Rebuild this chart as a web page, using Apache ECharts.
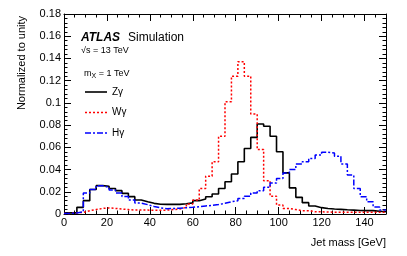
<!DOCTYPE html>
<html><head><meta charset="utf-8">
<script src="https://cdn.jsdelivr.net/npm/echarts@6/dist/echarts.min.js"></script>
<style>html,body{margin:0;padding:0;background:#fff}#c{width:407px;height:256px}</style>
</head><body><div id="c"></div>
<script>
// Bin edges (GeV), 3 GeV bins
var binEdges = [0,3,6,9,12,15,18,21,24,27,30,33,36,39,42,45,48,51,54,57,60,63,66,69,72,75,78,81,84,87,90,93,96,99,102,105,108,111,114,117,120,123,126,129,132,135,138,141,144,147,150];
var xTicks = [0,20,40,60,80,100,120,140];
var yTicks = [0,0.02,0.04,0.06,0.08,0.1,0.12,0.14,0.16,0.18];
var seriesNames = ['Z\u03b3','W\u03b3','H\u03b3'];
// Z gamma
var zGamma = [0.001,0.001,0.006,0.012,0.022,0.0255,0.025,0.023,0.021,0.0186,
  0.0156,0.0126,0.011,0.0096,0.0088,0.0087,0.0087,0.0087,0.0092,0.010,
  0.012,0.0135,0.0155,0.018,0.023,0.029,0.036,0.047,0.059,0.069,
  0.081,0.079,0.070,0.056,0.037,0.0235,0.015,0.0102,0.0072,0.0057,
  0.005,0.0045,0.0042,0.0038,0.0035,0.0032,0.003,0.003,0.0025,0.002];
// W gamma
var wGamma = [0.0005,0.001,0.0015,0.003,0.004,0.005,0.0055,0.005,0.0045,0.004,
  0.0035,0.0035,0.0035,0.0033,0.0033,0.0035,0.004,0.0045,0.006,0.009,
  0.0125,0.023,0.034,0.047,0.070,0.101,0.124,0.137,0.124,0.090,
  0.058,0.030,0.016,0.008,0.005,0.004,0.003,0.003,0.002,0.002,
  0.0018,0.0016,0.0015,0.0015,0.0015,0.0015,0.0015,0.0015,0.0015,0.0015];
// H gamma
var hGamma = [0.0005,0.001,0.002,0.019,0.022,0.0255,0.024,0.0215,0.019,0.0157,
  0.0125,0.0098,0.0084,0.0068,0.0055,0.0047,0.005,0.0052,0.0057,0.006,
  0.0066,0.0072,0.0078,0.0085,0.0096,0.011,0.012,0.014,0.016,0.019,
  0.021,0.024,0.028,0.032,0.037,0.040,0.045,0.047,0.050,0.053,
  0.0555,0.0548,0.052,0.045,0.035,0.023,0.0156,0.011,0.0064,0.0036];

function hist(vals){
  var d = [];
  for (var i=0;i<vals.length;i++) d.push([binEdges[i], vals[i]]);
  d.push([binEdges[vals.length], vals[vals.length-1]]);
  return d;
}
var FONT = 'Liberation Sans';
var styles = [
  {color:'#000', width:1.6, type:'solid'},
  {color:'#ff0000', width:1.5, type:[2,2]},
  {color:'#0000ff', width:1.5, type:[6,2,2,2]}
];
var chart = echarts.init(document.getElementById('c'), null, {renderer:'canvas'});
function axisBase(pos, isX, showLabel){
  return {
    type:'value', position: pos,
    min: 0, max: isX?150:0.18, interval: isX?20:0.02,
    axisLine:{show:true, onZero:false, lineStyle:{color:'#000', width:1}},
    axisTick:{show:true, inside:true, length:7, lineStyle:{color:'#000', width:1}},
    minorTick:{show:true, splitNumber: isX?4:5, length:3.5, lineStyle:{color:'#000', width:1}},
    splitLine:{show:false},
    axisLabel:{show:showLabel, color:'#000', fontFamily:FONT, fontSize:11, margin:3,
      showMaxLabel: !isX,
      formatter: isX ? function(v){return String(v);} : function(v){return v===0?'0':String(+v.toFixed(2));}}
  };
}
var legendGraphics = [];
for (var k=0;k<seriesNames.length;k++){
  var ly = 92 + k*20.5;
  legendGraphics.push({type:'line', shape:{x1:85, y1:ly, x2:107, y2:ly},
    style:{stroke:styles[k].color, lineWidth:styles[k].width, lineDash: styles[k].type==='solid'?null:styles[k].type}});
  legendGraphics.push({type:'text', x:112, y:ly, style:{text:seriesNames[k], fontFamily:FONT, fontSize:10, fill:'#000', verticalAlign:'middle'}});
}
var series = [zGamma, wGamma, hGamma].map(function(vals, k){
  return {name:seriesNames[k], type:'line', step:'end', symbol:'none', data:hist(vals),
    lineStyle:{color:styles[k].color, width:styles[k].width, type:styles[k].type},
    itemStyle:{color:styles[k].color}, z:3+k};
});
var option = {
  animation:false,
  backgroundColor:'#fff',
  grid:{left:64, right:21, top:14, bottom:42, containLabel:false},
  xAxis:[axisBase('bottom', true, true), axisBase('top', true, false)],
  yAxis:[axisBase('left', false, true), axisBase('right', false, false)],
  series: series,
  graphic:[
    {type:'text', x:22, y:63, rotation:Math.PI/2, style:{text:'Normalized to unity', fontFamily:FONT, fontSize:11, fill:'#000', align:'center', verticalAlign:'middle'}},
    {type:'text', x:386, y:243, style:{text:'Jet mass [GeV]', fontFamily:FONT, fontSize:11, fill:'#000', align:'right', verticalAlign:'middle'}},
    {type:'text', x:81, y:38, style:{text:'ATLAS', fontFamily:FONT, fontSize:12, fontWeight:'bold', fontStyle:'italic', fill:'#000', verticalAlign:'middle'}},
    {type:'text', x:128, y:38, style:{text:'Simulation', fontFamily:FONT, fontSize:12, fill:'#000', verticalAlign:'middle'}},
    {type:'text', x:81, y:51, style:{text:'\u221as = 13 TeV', fontFamily:FONT, fontSize:9, fill:'#000', verticalAlign:'middle'}},
    {type:'text', x:84, y:74, style:{text:'{a|m}{b|X}{a| = 1 TeV}', fontFamily:FONT, fill:'#000', verticalAlign:'middle',
      rich:{a:{fontFamily:FONT, fontSize:9, fill:'#000'}, b:{fontFamily:FONT, fontSize:7, fill:'#000', padding:[5,0,0,0]}}}}
  ].concat(legendGraphics)
};
chart.setOption(option);
</script></body></html>
